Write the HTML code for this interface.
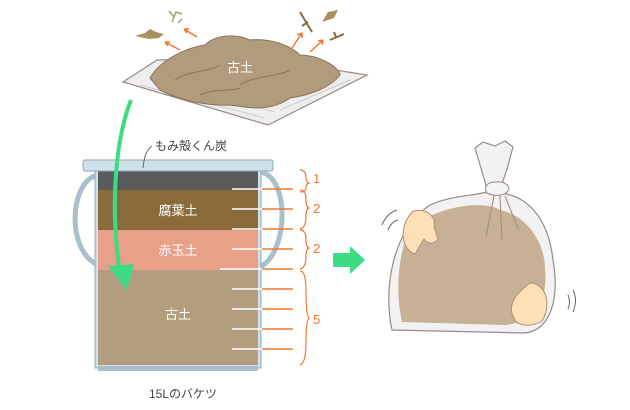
<!DOCTYPE html>
<html><head><meta charset="utf-8"><style>
body{margin:0;background:#fff;}
svg{display:block;font-family:"Liberation Sans","Noto Sans CJK JP",sans-serif;}
</style></head><body>
<svg width="630" height="410" viewBox="0 0 630 410">
<!-- newspaper -->
<polygon points="123,82 157,60 260,58 367,75 268,125" fill="#eeeeee" stroke="#9a8a80" stroke-width="1.2"/>
<g stroke="#ccc" stroke-width="1"><line x1="140" y1="85" x2="265" y2="118"/><line x1="150" y1="80" x2="275" y2="112"/><line x1="280" y1="110" x2="350" y2="80"/></g>
<!-- soil pile -->
<path d="M150,78 C160,60 185,48 205,45 C215,35 235,33 250,40 C270,38 290,45 300,55 C320,55 340,68 340,75 C330,88 310,95 290,98 C270,112 250,108 230,105 C200,106 175,98 160,90 Z" fill="#b09c7c" stroke="#8a7458" stroke-width="1"/>
<g stroke="#8a7458" fill="none" stroke-width="1"><path d="M175,80 C190,70 210,72 220,65"/><path d="M240,85 C255,75 275,78 290,70"/><path d="M200,95 C215,88 230,92 240,88"/></g>
<text x="240" y="72" font-size="13" fill="#fff" text-anchor="middle">古土</text>
<!-- debris & arrows -->
<path d="M135,36 l10,-3 l5,-4 l6,3 l8,2 l-5,4 l-10,1 z" fill="#a89060"/>
<path d="M172,22 l4,-10 l6,2 m-8,3 l-5,-6 m9,12 l4,-4" stroke="#a89878" fill="none" stroke-width="1.5"/>
<path d="M300,12 l12,20 m-4,-10 l-6,4" stroke="#8a6a40" stroke-width="2" fill="none"/>
<path d="M322,22 l6,-10 l10,-2 l-4,8 z" fill="#a89060"/>
<path d="M330,40 l14,-6 m-8,3 l-2,-5" stroke="#8a6a40" stroke-width="2" fill="none"/>
<g stroke="#f07830" stroke-width="1.5" fill="none"><path d="M180,50 l-15,-8 m0,0 l5,0 m-5,0 l3,4"/><path d="M197,37 l-13,-8 m0,0 l5,0 m-5,0 l3,4"/><path d="M292,48 l10,-15 m0,0 l-5,2 m5,-2 l0,5"/><path d="M310,52 l13,-12 m0,0 l-5,1 m5,-1 l-1,5"/></g>
<!-- bucket handles -->
<path d="M98,175 C70,180 65,250 98,265" stroke="#a8c0cc" stroke-width="5" fill="none"/>
<path d="M258,172 C290,172 290,255 258,268" stroke="#a8c0cc" stroke-width="5" fill="none"/>
<!-- bucket body -->
<rect x="95" y="168" width="166" height="200" fill="#cfe0e8" stroke="#8aa8b8"/>
<rect x="98" y="170" width="160" height="20" fill="#5a5b5c"/>
<rect x="98" y="190" width="160" height="40" fill="#8a6c3c"/>
<rect x="98" y="230" width="160" height="40" fill="#e8a088"/>
<rect x="98" y="270" width="160" height="95" fill="#b29e7e"/>
<rect x="98" y="366" width="160" height="5" fill="#a8c0cc"/>
<rect x="83" y="160" width="190" height="11" rx="2" fill="#cfe0e8" stroke="#8aa8b8"/>
<text x="178" y="215" font-size="13" fill="#fff" text-anchor="middle">腐葉土</text>
<text x="178" y="255" font-size="13" fill="#fff" text-anchor="middle">赤玉土</text>
<text x="178" y="319" font-size="13" fill="#fff" text-anchor="middle">古土</text>
<text x="155" y="150" font-size="12" fill="#444">もみ殻くん炭</text>
<path d="M152,146 C146,150 144,158 143,168" stroke="#666" fill="none"/>
<text x="183" y="398" font-size="12" fill="#444" text-anchor="middle">15Lのバケツ</text>
<!-- ticks -->
<g stroke-width="1.5">
<g stroke="#fff"><line x1="232" y1="189" x2="262" y2="189"/><line x1="232" y1="209" x2="262" y2="209"/><line x1="232" y1="229" x2="262" y2="229"/><line x1="232" y1="249" x2="262" y2="249"/><line x1="220" y1="269" x2="262" y2="269"/><line x1="232" y1="289" x2="262" y2="289"/><line x1="232" y1="309" x2="262" y2="309"/><line x1="232" y1="329" x2="262" y2="329"/><line x1="232" y1="349" x2="262" y2="349"/></g>
<g stroke="#f07830"><line x1="262" y1="189" x2="293" y2="189"/><line x1="262" y1="209" x2="293" y2="209"/><line x1="262" y1="229" x2="293" y2="229"/><line x1="262" y1="249" x2="293" y2="249"/><line x1="262" y1="269" x2="293" y2="269"/><line x1="262" y1="289" x2="293" y2="289"/><line x1="262" y1="309" x2="293" y2="309"/><line x1="262" y1="329" x2="293" y2="329"/><line x1="262" y1="349" x2="293" y2="349"/></g>
</g>
<g stroke="#f07830" fill="none" stroke-width="1.2">
<path d="M300,170 q6,0 6,8 q0,4 3,5 q-3,1 -3,5 q0,4 -6,4"/>
<path d="M300,190 q6,0 6,10 q0,7 3,8 q-3,1 -3,8 q0,12 -6,13"/>
<path d="M300,230 q6,0 6,10 q0,7 3,8 q-3,1 -3,8 q0,12 -6,13"/>
<path d="M300,271 q6,0 6,20 q0,25 3,27 q-3,2 -3,25 q0,20 -6,22"/>
</g>
<g fill="#f07830" font-size="13"><text x="313" y="183">1</text><text x="313" y="213">2</text><text x="313" y="253">2</text><text x="313" y="324">5</text></g>
<!-- green arrows -->
<path d="M131,100 C115,140 110,210 120,272" stroke="#3ddc84" stroke-width="4" fill="none"/>
<polygon points="108,266 134,264 127,290" fill="#3ddc84"/>
<polygon points="333,253 350,253 350,246 365,260 350,274 350,267 333,267" fill="#3ddc84"/>
<!-- bag -->
<path d="M475,148 l8,-6 l12,4 l10,-5 l8,6 l-6,22 l-8,24 C525,195 548,215 553,260 C560,300 550,330 525,333 L392,330 C383,290 392,230 430,205 C450,196 470,196 488,192 Z" fill="#f2f2f2" stroke="#9a8a80" stroke-width="1.2"/>
<path d="M410,228 C440,205 485,200 500,210 C525,215 545,240 545,270 C548,300 535,322 505,325 L402,322 C395,290 398,255 410,228 Z" fill="#c0a484" opacity="0.85"/>
<g stroke="#9a8a80" fill="none"><path d="M494,196 l-8,40"/><path d="M500,196 l2,45"/><path d="M505,196 l14,35"/></g>
<path d="M495,182 c-8,0 -12,6 -8,11 c8,4 20,3 22,-4 c-1,-6 -8,-8 -14,-7z" fill="#f4f4f4" stroke="#9a8a80"/>
<path d="M412,212 c10,-5 25,2 22,15 l4,12 c-4,6 -10,5 -14,0 l-9,15 c-12,-4 -18,-24 -3,-42z" fill="#fde0b8" stroke="#b09070"/>
<path d="M530,283 c16,0 22,22 12,38 c-10,6 -25,6 -28,-3 c-6,-10 -2,-22 16,-35z" fill="#fde0b8" stroke="#b09070"/>
<g stroke="#666" fill="none"><path d="M382,225 q5,-12 15,-15"/><path d="M388,230 q3,-8 10,-10"/><path d="M573,290 q5,10 0,22"/><path d="M568,295 q3,7 0,14"/></g>
</svg>
</body></html>
